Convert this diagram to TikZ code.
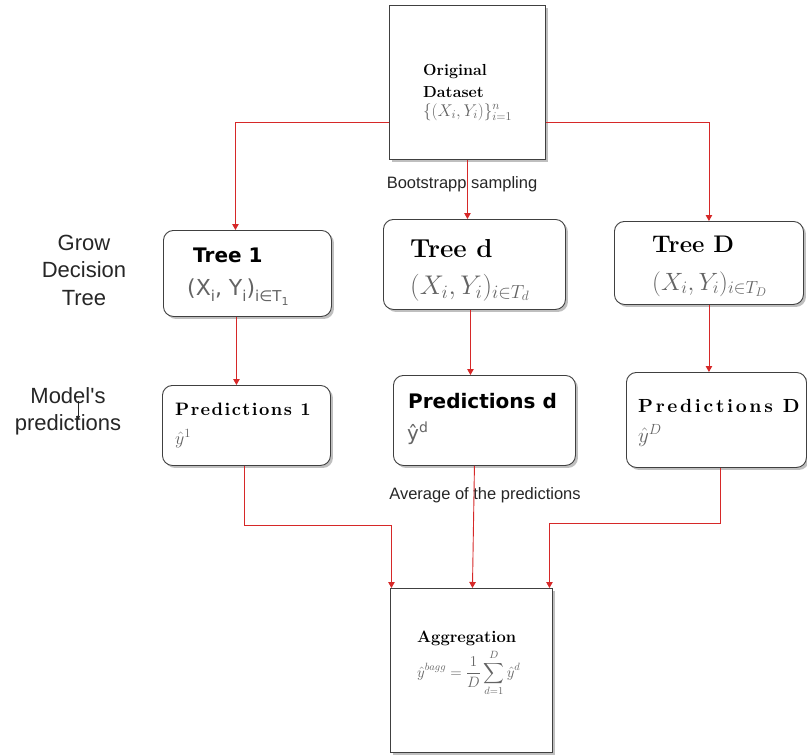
\RequirePackage{fix-cm}
\documentclass[tikz,border=0pt]{standalone}
\usepackage{amsmath}
\usepackage{fontspec}
\newfontfamily\lib{Liberation Sans}
\newfontfamily\dvs{DejaVu Sans}
\newfontfamily\lmsA{lmroman10-bold.otf}[LetterSpace=8]
\newfontfamily\lmsB{lmroman10-bold.otf}[LetterSpace=14]
\usetikzlibrary{arrows.meta,shadows}
\definecolor{redline}{RGB}{214,40,40}
\definecolor{mathgray}{RGB}{100,100,100}
\newcommand\fsz[2]{\fontsize{#1}{#2}\selectfont}
\newcommand\sbs[2]{\raisebox{-0.28em}{\fsz{#1}{#1}#2}}
\tikzset{
  box/.style={draw=black!75, line width=0.9pt, fill=white, anchor=north west, inner sep=0pt,
    drop shadow={shadow xshift=2.5pt, shadow yshift=-2.5pt, opacity=0.25, fill=black}},
  rbox/.style={box, rounded corners=10pt},
  link/.style={draw=redline, line width=0.9pt, -{Triangle[length=6pt,width=6.5pt]}},
  lbl/.style={anchor=base west, inner sep=0pt},
  side/.style={align=center, text=black!85, inner sep=0pt},
  note/.style={inner sep=0pt, text=black!85}
}
\begin{document}
\begin{tikzpicture}[x=1pt,y=-1pt]
\useasboundingbox (0,0) rectangle (807,755);

% boxes
\node[box, minimum width=156pt, minimum height=154pt] (data) at (389,5) {};
\node[rbox, minimum width=168pt, minimum height=86pt] (tree1) at (163,230) {};
\node[rbox, minimum width=182pt, minimum height=90pt] (treed) at (383,219) {};
\node[rbox, minimum width=189pt, minimum height=83pt] (treeD) at (614,221) {};
\node[rbox, minimum width=168pt, minimum height=80pt] (pred1) at (162,385) {};
\node[rbox, minimum width=182pt, minimum height=90pt] (predd) at (393,375) {};
\node[rbox, minimum width=180pt, minimum height=95pt] (predD) at (626,372) {};
\node[box, minimum width=162pt, minimum height=164pt] (agg) at (390,588) {};

% texts in boxes
\node[lbl] (dsa) at (423,75) {\fsz{16}{19}\bfseries Original};
\node[lbl] (dsb) at (423,97) {\fsz{16}{19}\bfseries Dataset};
\node[lbl, text=mathgray] (dsc) at (423,116) {\fsz{17}{20}$\{(X_i,Y_i)\}_{i=1}^{n}$};

\node[lbl] (t1a) at (193,262) {\dvs\bfseries\fsz{20}{24}Tree 1};
\node[lbl, text=mathgray] (t1b) at (187,295) {\dvs\fsz{22}{26}(X\sbs{15}{i}, Y\sbs{15}{i})\sbs{15}{i∈T\sbs{11}{1}}};

\node[lbl] (tda) at (410,257) {\fsz{26}{30}\bfseries Tree d};
\node[lbl, text=mathgray] (tdb) at (410,294) {\fsz{27}{31}$(X_i,Y_i)_{i\in T_d}$};

\node[lbl] (tDa) at (652,252) {\fsz{24}{28}\bfseries Tree D};
\node[lbl, text=mathgray] (tDb) at (652,290) {\fsz{25}{29}$(X_i,Y_i)_{i\in T_D}$};

\node[lbl] (p1a) at (175,415) {\lmsA\fsz{18}{22}Predictions 1};
\node[lbl, text=mathgray] (p1b) at (175,444) {\fsz{18}{21}$\hat{y}^{1}$};

\node[lbl] (pda) at (408,408) {\dvs\bfseries\fsz{20}{24}Predictions d};
\node[lbl, text=mathgray] (pdb) at (407,440) {\dvs\fsz{20}{24}ŷ\textsuperscript{d}};

\node[lbl] (pDa) at (638,412) {\lmsB\fsz{19}{23}Predictions D};
\node[lbl, text=mathgray] (pDb) at (638,442) {\fsz{21}{25}$\hat{y}^{D}$};

\node[lbl] (aga) at (417,642) {\fsz{16.5}{19}\bfseries Aggregation};
\node[lbl, text=mathgray] (agb) at (417,677) {\fsz{15}{18}$\displaystyle \hat{y}^{bagg}=\frac{1}{D}\sum_{d=1}^{D}\hat{y}^{d}$};

% side labels
\node[side, font=\lib\fsz{22}{27.5}] (grow) at (84,270) {Grow\\Decision\\Tree};
\node[side, font=\lib\fsz{22}{27}] (model) at (68,411) {Model's\\predictions};
\coordinate (ma) at (78,401);
\coordinate (mb) at (78,420);
\draw[black!85, line width=0.6pt, -{Triangle[length=4pt,width=4pt]}] (ma) -- (mb);

\node[note, font=\lib\fsz{16.5}{20}] (boot) at (462,184) {Bootstrapp sampling};
\node[note, font=\lib\fsz{16.5}{20}] (avg) at (485,495) {Average of the predictions};

% connectors
\draw[link] ([yshift=-40pt]data.west) -| ([xshift=-12pt]tree1.north);
\draw[link] ([yshift=-40pt]data.east) -| (treeD.north);
\draw[link] (data.south) -- (data.south |- treed.north);

\draw[link] ([xshift=-11pt]tree1.south) -- ([xshift=-11pt]tree1.south |- pred1.north);
\draw[link] ([xshift=-4pt]treed.south) -- ([xshift=-4pt]treed.south |- predd.north);
\draw[link] (treeD.south) -- (treeD.south |- predD.north);

\draw[link] ([xshift=-2pt]pred1.south) -- ++(0,60) -| ([xshift=-80pt]agg.north);
\draw[link] ([xshift=-10pt]predd.south) -- ([xshift=1pt]agg.north);
\draw[link] ([xshift=4pt]predD.south) -- ++(0,56) -| ([xshift=78pt]agg.north);
\end{tikzpicture}
\end{document}
